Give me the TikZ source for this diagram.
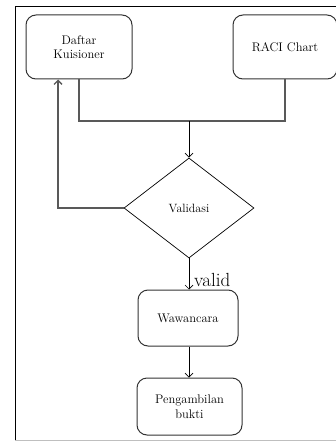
\documentclass[tikz,border=0pt]{standalone}
\usetikzlibrary{shapes.geometric,arrows.meta}
\begin{document}
\begin{tikzpicture}[x=1pt,y=-1pt,
  box/.style={draw=black!80,line width=1pt,rounded corners=10pt,align=center,
    font=\fontsize{12.5}{14.5}\selectfont,inner sep=0pt},
  dec/.style={draw=black,line width=0.7pt,diamond,minimum width=130pt,minimum height=100pt,
    inner sep=0pt,font=\fontsize{12}{13}\selectfont},
  gline/.style={draw=black!65,line width=1.4pt},
  bline/.style={draw=black,line width=0.7pt},
  tip/.style={-{Straight Barb[length=4pt,width=8pt]}},
  frame/.style={draw=black,line width=0.9pt}]
\useasboundingbox (0,0) rectangle (336,441);
\draw[frame] (15,440) -- (15,6) -- (336,6);
\draw[draw=black!25,line width=0.8pt] (15,440) -- (336,440);
\node[box,minimum width=106pt,minimum height=64pt] (dk) at (79,47) {Daftar\\Kuisioner};
\node[box,minimum width=104pt,minimum height=64pt] (raci) at (285,47) {RACI Chart};
\node[dec] (val) at (189,208) {Validasi};
\node[box,minimum width=100pt,minimum height=56pt] (waw) at (188,318) {Wawancara};
\node[box,minimum width=105pt,minimum height=57pt] (peng) at (189.5,406.5) {Pengambilan\\bukti};
\coordinate (j) at (189,121);
\draw[gline] (dk.south) -- (dk.south |- j) -| (raci.south);
\draw[bline,tip] (j) -- (val.north);
\draw[gline,tip] (val.west) -| ([xshift=-21pt]dk.south);
\draw[bline,tip] (val.south) -- (val.south |- waw.north);
\node[anchor=base west,inner sep=0pt,font=\fontsize{19}{22}\selectfont] (vl) at (194,286) {valid};
\draw[bline,tip] (val.south |- waw.south) -- (val.south |- peng.north);
\end{tikzpicture}
\end{document}
